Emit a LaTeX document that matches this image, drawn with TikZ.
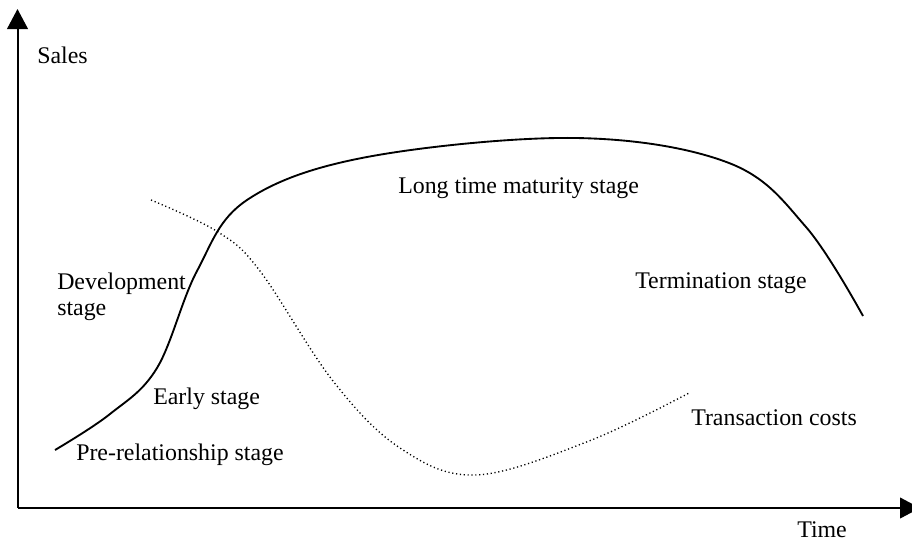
\documentclass[tikz,border=0pt]{standalone}
\usepackage{fontspec}
\setmainfont{Liberation Serif}
\usetikzlibrary{arrows.meta}
\begin{document}
\begin{tikzpicture}[x=0.75pt,y=-0.75pt,
  axis/.style={line width=1.5pt,-{Triangle[length=15pt,width=15.5pt]}},
  salescurve/.style={line width=1.4pt},
  costcurve/.style={line width=1pt,dash pattern=on 0.9pt off 2pt},
  lbl/.style={inner sep=0pt,anchor=west,font=\fontsize{17.9pt}{19.5pt}\selectfont,align=left}]
\useasboundingbox (0,0) rectangle (912,543);
\coordinate (origin) at (17.5,508);
\coordinate (ytop) at (17.5,9);
\coordinate (xend) at (920,508);
\draw[axis] (origin) -- (ytop);
\draw[axis] (origin) -- (xend);
\draw[salescurve] plot[smooth,tension=0.6] coordinates {
  (55,450) (110,414) (157,368) (197,271) (247,200)
  (367,157) (576,138) (729,163) (806,227) (863,316)};
\draw[costcurve] plot[smooth,tension=0.6] coordinates {
  (151,200) (218,232) (260,271) (333,381) (400,448) (476,475) (589,441) (689,393)};
\node[lbl] (sales) at (37,55) {Sales};
\node[lbl] (maturity) at (398,188) {Long time maturity stage};
\node[lbl] (development) at (57,297) {Development\\stage};
\node[lbl] (early) at (153,399) {Early stage};
\node[lbl] (prerel) at (76,455) {Pre-relationship stage};
\node[lbl] (termination) at (635,283) {Termination stage};
\node[lbl] (transaction) at (691,418) {Transaction costs};
\node[lbl] (time) at (797,530) {Time};
\end{tikzpicture}
\end{document}
